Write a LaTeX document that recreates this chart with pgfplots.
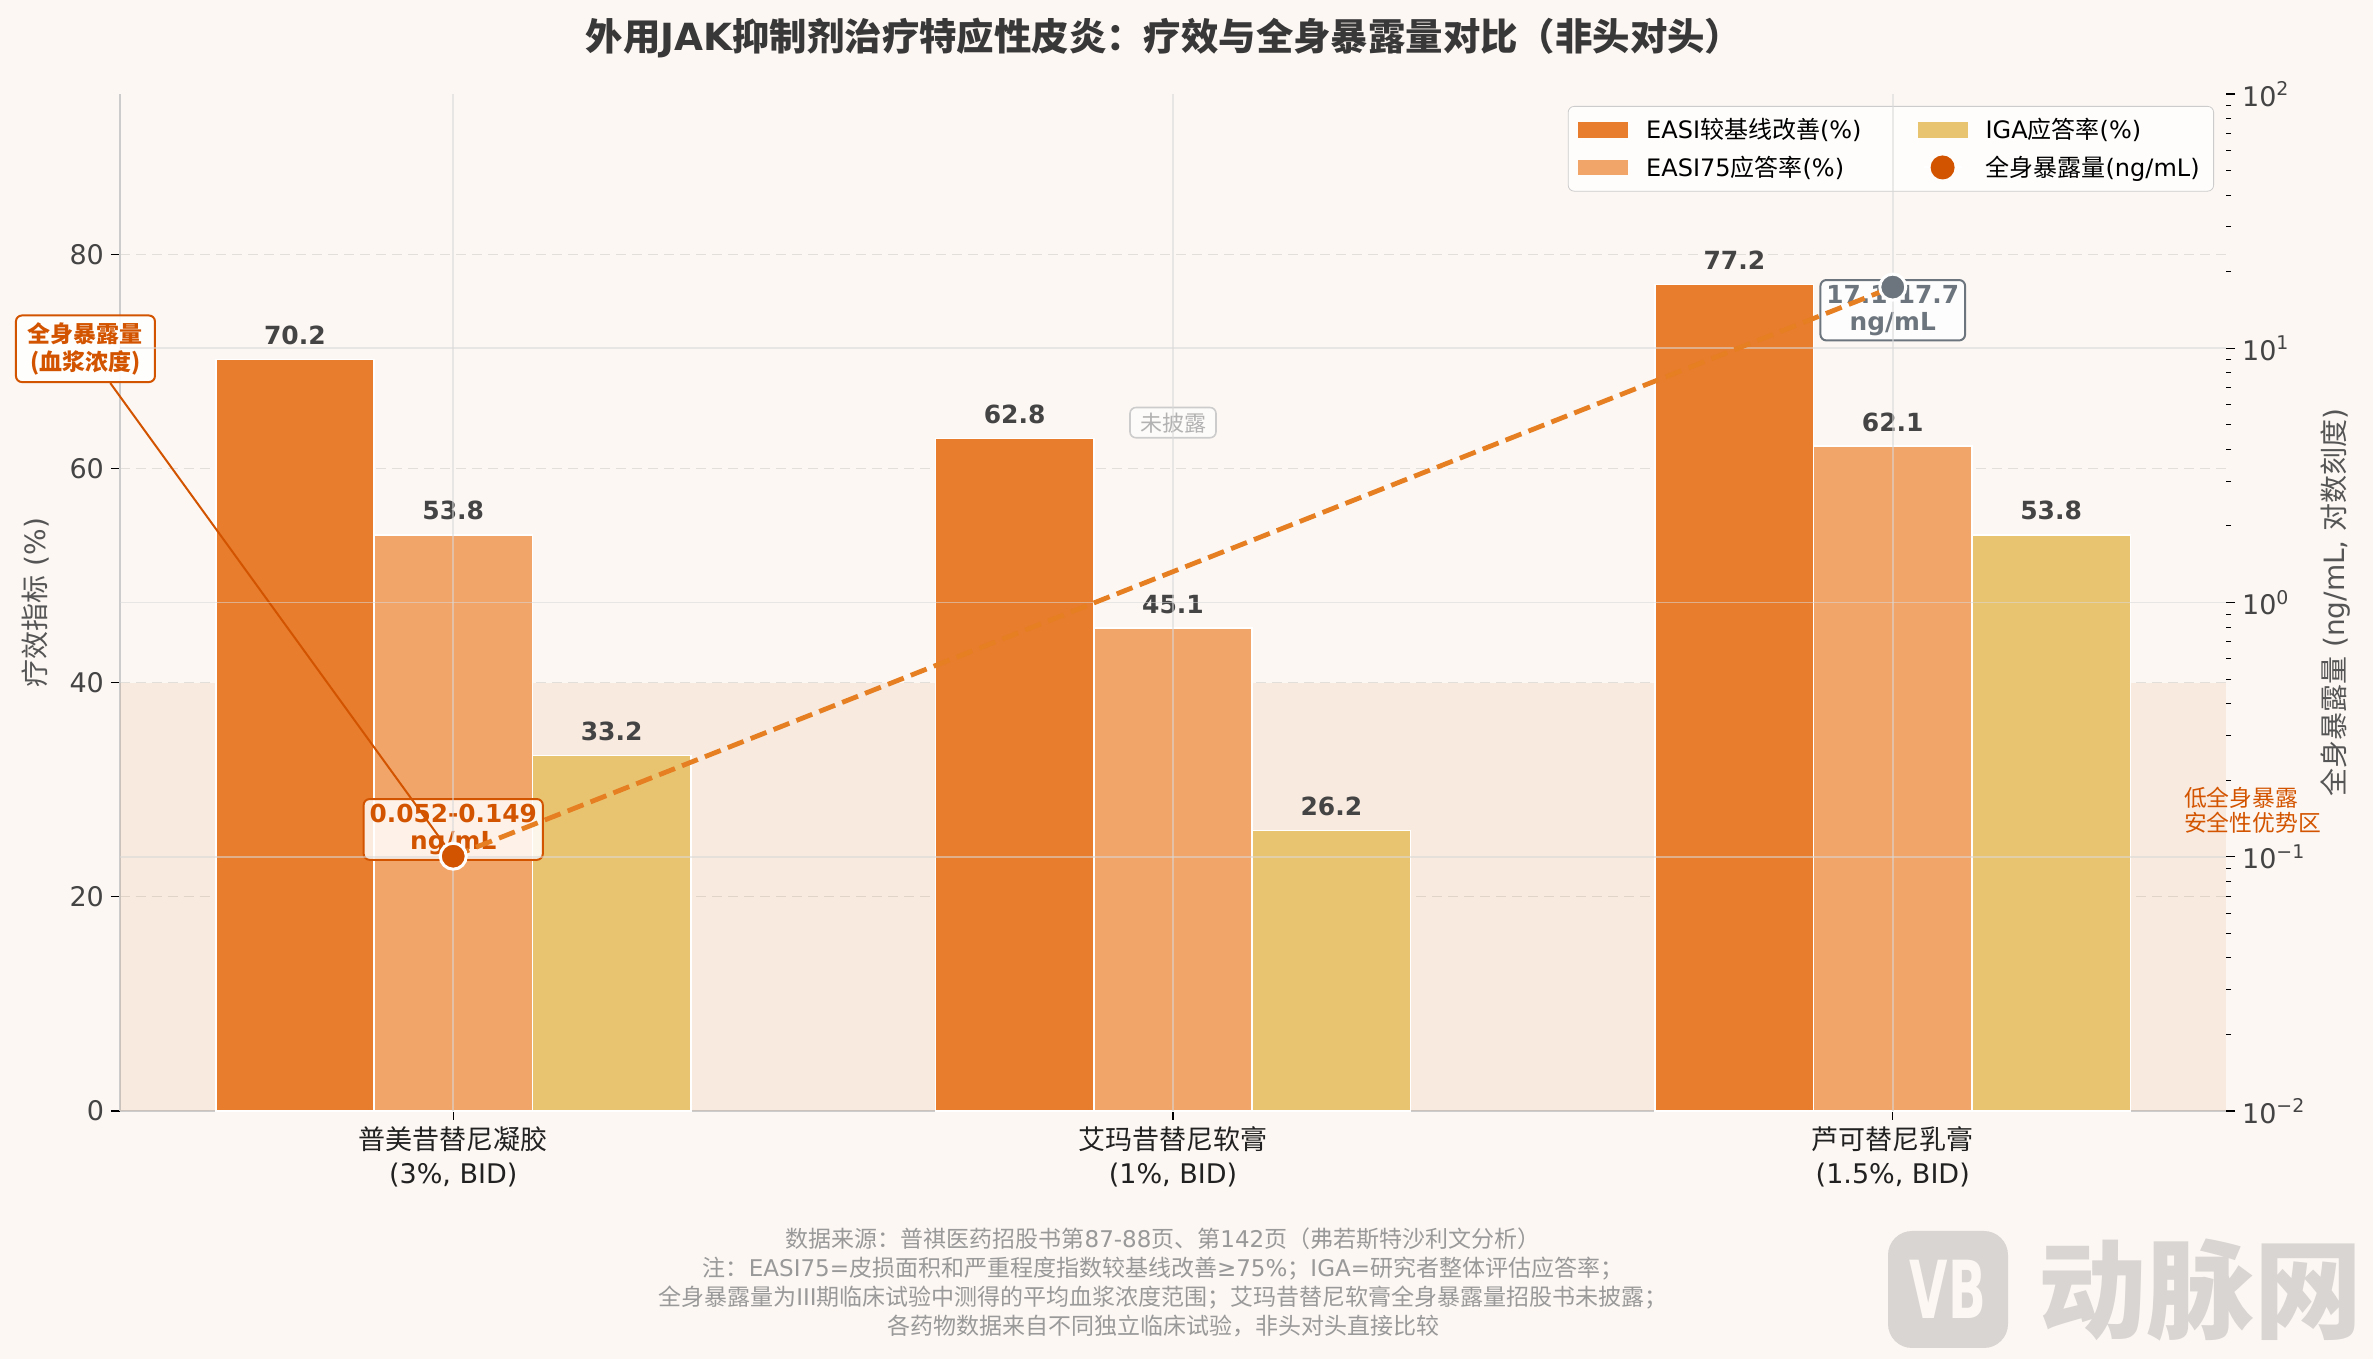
\documentclass[border=0pt]{standalone}
\usepackage{fontspec}
\setmainfont{DejaVu Sans}
\newfontfamily\cjk{Noto Sans CJK SC}
\usepackage{pgfplots}
\pgfplotsset{compat=1.18, /pgf/number format/assume math mode=true}
\definecolor{bg}{HTML}{FCF7F3}
\definecolor{c1}{HTML}{E87D2D}
\definecolor{c2}{HTML}{F2A569}
\definecolor{c3}{HTML}{E9C470}
\definecolor{expo}{HTML}{D35400}
\definecolor{gry}{HTML}{6C757D}
\definecolor{txt}{HTML}{444444}
\definecolor{lbl}{HTML}{555555}
\definecolor{spine}{HTML}{CCCCCC}
\definecolor{gridc}{HTML}{E2DEDA}
\definecolor{foot}{HTML}{999999}
\definecolor{wm}{HTML}{D9D5D2}
\definecolor{dashc}{HTML}{E67E22}
\newcommand{\fs}[2]{\fontsize{#1}{#2}\selectfont}
\begin{document}
\begin{tikzpicture}
\path[use as bounding box, fill=bg] (-60pt,-124pt) rectangle (1126.5pt,555.5pt);
\begin{axis}[
  at={(0pt,0pt)}, anchor=south west,
  scale only axis, width=1053pt, height=508.5pt,
  xmin=-0.463, xmax=2.463, ymin=0, ymax=95,
  axis x line*=bottom, axis y line*=left,
  x axis line style={draw=spine, line width=1.2pt, -},
  y axis line style={draw=spine, line width=1.2pt, -},
  tick align=outside, major tick length=4.5pt,
  major tick style={black, line width=0.6pt},
  xtick={0,1,2},
  xticklabels={{{\cjk 普美昔替尼凝胶}\\(3\%, BID)},{{\cjk 艾玛昔替尼软膏}\\(1\%, BID)},{{\cjk 芦可替尼乳膏}\\(1.5\%, BID)}},
  xticklabel style={font=\fs{13.5}{17}, align=center, text=black!87},
  ytick={0,20,40,60,80},
  yticklabel style={font=\fs{13.5}{14}, text=txt},
  ymajorgrids, major grid style={draw=gridc, dash pattern=on 5pt off 3pt, line width=0.6pt},
  ylabel={{\cjk 疗效指标} (\%)},
  every axis y label/.style={at={(axis description cs:0,0.5)}, xshift=-42pt, rotate=90, anchor=center, font=\fs{14}{15}, text=lbl},
  ybar=0pt, bar width=0.22,
  clip=false,
  nodes near coords={\pgfmathprintnumber[fixed,fixed zerofill,precision=1]{\pgfplotspointmeta}},
  nodes near coords style={font=\bfseries\fs{12.5}{13}, text=txt, anchor=south, inner sep=0pt, yshift=7pt},
  legend columns=2, transpose legend, legend cell align=left,
  legend style={at={(axis description cs:1,1)}, anchor=north east, xshift=-6pt, yshift=-6pt,
    fill=white, fill opacity=0.8, text opacity=1, draw=spine, rounded corners=3pt,
    font=\fs{12}{14}, inner xsep=5pt, inner ysep=4pt, row sep=3pt,
    /tikz/every even column/.append style={column sep=26pt}},
]
\fill[expo, fill opacity=0.08] (axis cs:-0.463,0) rectangle (axis cs:2.463,40);
\addplot[fill=c1, draw=white, line width=0.8pt, bar shift=-0.22,
  legend image code/.code={\fill[c1, draw=none, fill opacity=1, sharp corners] (0pt,-3.8pt) rectangle (25pt,3.8pt); \path[draw=none,fill=none] (32pt,0pt);}]
  coordinates {(0,70.2) (1,62.8) (2,77.2)};
\addlegendentry{EASI{\cjk 较基线改善}(\%)}
\addplot[fill=c2, draw=white, line width=0.8pt, bar shift=0,
  legend image code/.code={\fill[c2, draw=none, fill opacity=1, sharp corners] (0pt,-3.8pt) rectangle (25pt,3.8pt); \path[draw=none,fill=none] (32pt,0pt);}]
  coordinates {(0,53.8) (1,45.1) (2,62.1)};
\addlegendentry{EASI75{\cjk 应答率}(\%)}
\addplot[fill=c3, draw=white, line width=0.8pt, bar shift=0.22,
  legend image code/.code={\fill[c3, draw=none, fill opacity=1, sharp corners] (0pt,-3.8pt) rectangle (25pt,3.8pt); \path[draw=none,fill=none] (32pt,0pt);}]
  coordinates {(0,33.2) (1,26.2) (2,53.8)};
\addlegendentry{IGA{\cjk 应答率}(\%)}
\addlegendimage{legend image code/.code={\draw[white, draw opacity=1, line width=1pt, sharp corners] (3pt,0pt)--(22pt,0pt); \fill[expo, draw=none, fill opacity=1] (12.5pt,0pt) circle (6pt); \path[draw=none,fill=none] (32pt,0pt);}}
\addlegendentry{{\cjk 全身暴露量}(ng/mL)}
\node[draw=expo, line width=1pt, rounded corners=3pt, fill=white, fill opacity=0.85, text opacity=1, text=expo,
  font=\bfseries\fs{12.4}{13.5}, align=center, inner xsep=3pt, inner ysep=2.5pt] at (axis cs:0,26.3) {0.052-0.149\\ng/mL};
\node[draw=gry, line width=1pt, rounded corners=3pt, fill=white, fill opacity=0.85, text opacity=1, text=gry,
  font=\bfseries\fs{12.4}{13.5}, align=center, inner xsep=3pt, inner ysep=2.5pt] at (axis cs:2,74.8) {17.1-17.7\\ng/mL};
\node[draw=spine, line width=0.8pt, rounded corners=3pt, fill=white, fill opacity=0.5, text opacity=1, text=black!30,
  font=\cjk\fs{11}{12}, inner xsep=5pt, inner ysep=2.5pt] at (axis cs:1,64.3) {未披露};
\node[draw=expo, line width=1pt, rounded corners=3pt, fill=white, fill opacity=0.9, text opacity=1, text=expo,
  font=\cjk\bfseries\fs{11.5}{14}, align=center, inner xsep=6pt, inner ysep=3.5pt] (lbox) at (axis cs:-0.511,71.2) {全身暴露量\\(血浆浓度)};
\draw[expo, line width=1pt] (lbox) -- (axis cs:0,23.77);
\end{axis}
\begin{axis}[
  at={(0pt,0pt)}, anchor=south west,
  scale only axis, width=1053pt, height=508.5pt,
  xmin=-0.463, xmax=2.463, ymode=log, ymin=0.01, ymax=100,
  axis x line=none, axis y line*=right,
  y axis line style={draw=none},
  ytick={0.01,0.1,1,10,100}, yminorticks=true,
  yticklabels={10\textsuperscript{−2},10\textsuperscript{−1},10\textsuperscript{0},10\textsuperscript{1},10\textsuperscript{2}},
  yticklabel style={font=\fs{13.5}{14}, text=txt},
  tick align=outside, major tick length=4.5pt, minor tick length=2.5pt,
  major tick style={black, line width=0.6pt}, minor tick style={black, line width=0.5pt},
  ylabel={{\cjk 全身暴露量} (ng/mL, {\cjk 对数刻度})},
  every axis y label/.style={at={(axis description cs:1,0.5)}, xshift=54.5pt, rotate=90, anchor=center, font=\fs{14}{15}, text=lbl},
]
\draw[white!85!black, opacity=0.55, line width=0.8pt] (axis cs:-0.463,0.1) -- (axis cs:2.463,0.1);
\draw[white!85!black, opacity=0.55, line width=0.8pt] (axis cs:-0.463,1) -- (axis cs:2.463,1);
\draw[white!85!black, opacity=0.55, line width=0.8pt] (axis cs:-0.463,10) -- (axis cs:2.463,10);
\draw[white!85!black, opacity=0.55, line width=0.8pt] (axis cs:0,0.01) -- (axis cs:0,100);
\draw[white!85!black, opacity=0.55, line width=0.8pt] (axis cs:1,0.01) -- (axis cs:1,100);
\draw[white!85!black, opacity=0.55, line width=0.8pt] (axis cs:2,0.01) -- (axis cs:2,100);
\addplot[dashc, line width=2.4pt, dash pattern=on 8.5pt off 3.8pt] coordinates {(0,0.1005) (2,17.4)};
\addplot[only marks, mark=*, mark size=6.5pt, mark options={fill=expo, draw=white, line width=1.5pt}] coordinates {(0,0.1005)};
\addplot[only marks, mark=*, mark size=6.5pt, mark options={fill=gry, draw=white, line width=1.5pt}] coordinates {(2,17.4)};
\end{axis}
\node[anchor=west, align=left, text=expo, font=\cjk\fs{11.4}{12.5}] at (1028.5pt,150.25pt) {低全身暴露\\安全性优势区};
\node[font=\bfseries\fs{18.7}{20}, text=black!78] at (522pt,536.5pt) {{\cjk 外用}JAK{\cjk 抑制剂治疗特应性皮炎：疗效与全身暴露量对比（非头对头）}};
\node[align=center, font=\fs{11.5}{14.5}, text=foot] at (521.5pt,-85.75pt) {%
{\cjk 数据来源：普祺医药招股书第}87-88{\cjk 页、第}142{\cjk 页（弗若斯特沙利文分析）}\\
{\cjk 注：}EASI75={\cjk 皮损面积和严重程度指数较基线改善}≥75\%{\cjk ；}IGA={\cjk 研究者整体评估应答率；}\\
{\cjk 全身暴露量为}III{\cjk 期临床试验中测得的平均血浆浓度范围；艾玛昔替尼软膏全身暴露量招股书未披露；}\\
{\cjk 各药物数据来自不同独立临床试验，非头对头直接比较}};
\fill[wm, rounded corners=12pt] (884pt,-118.5pt) rectangle (944pt,-60pt);
\node[font=\bfseries\fs{40}{40}, text=bg, xscale=0.62] at (914pt,-89.25pt) {VB};
\node[font=\cjk\bfseries\fs{54}{54}, text=wm] at (1040.25pt,-89.5pt) {动脉网};
\end{tikzpicture}
\end{document}
